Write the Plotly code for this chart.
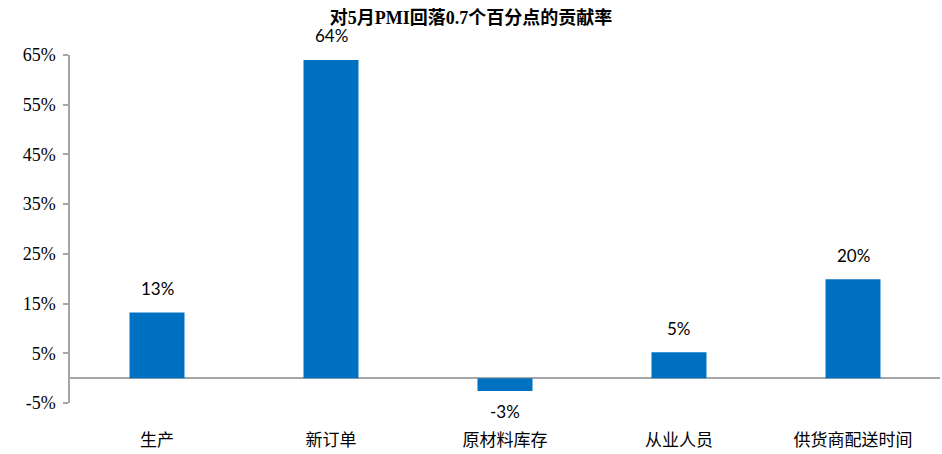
import plotly.graph_objects as go

categories = ["生产", "新订单", "原材料库存", "从业人员", "供货商配送时间"]
values = [13.2, 64.0, -2.6, 5.2, 19.9]
labels = ["13%", "64%", "-3%", "5%", "20%"]
tick_vals = [-5, 5, 15, 25, 35, 45, 55, 65]
tick_text = ["-5%", "5%", "15%", "25%", "35%", "45%", "55%", "65%"]

fig = go.Figure()
fig.add_trace(go.Bar(
    x=categories, y=values,
    marker=dict(color="#0070C0", line=dict(width=0)),
    cliponaxis=False,
))

for c, v, t in zip(categories, values, labels):
    fig.add_annotation(x=c, y=v, text=t, showarrow=False,
                       yanchor="middle", yshift=24 if v >= 0 else -20,
                       font=dict(family="Lato, Liberation Sans, sans-serif", size=17, color="#000000"))

fig.update_layout(
    width=942, height=454,
    margin=dict(l=70, r=2, t=55, b=51),
    paper_bgcolor="white", plot_bgcolor="white",
    showlegend=False,
    bargap=0.684,
    title=dict(text="<b>对5月PMI回落0.7个百分点的贡献率</b>", x=0.5, xanchor="center",
               y=0.962, yanchor="middle",
               font=dict(family="Liberation Serif, Noto Sans CJK SC, serif", size=18, color="#000000")),
    xaxis=dict(showline=False, showgrid=False, ticks="", zeroline=False,
               tickfont=dict(family="Noto Sans CJK SC, sans-serif", size=17, color="#000000"),
               ticklabelstandoff=25),
    yaxis=dict(range=[-5, 65], tickvals=tick_vals, ticktext=tick_text,
               showgrid=False, showline=True, linecolor="#A6A6A6", linewidth=1.5,
               ticks="outside", ticklen=5, tickcolor="#A6A6A6", tickwidth=1.5,
               zeroline=True, zerolinecolor="#A6A6A6", zerolinewidth=1.5,
               tickfont=dict(family="Liberation Serif, Times New Roman, serif", size=18, color="#000000"),
               ticklabelstandoff=4),
)

fig.write_html("out.html")
